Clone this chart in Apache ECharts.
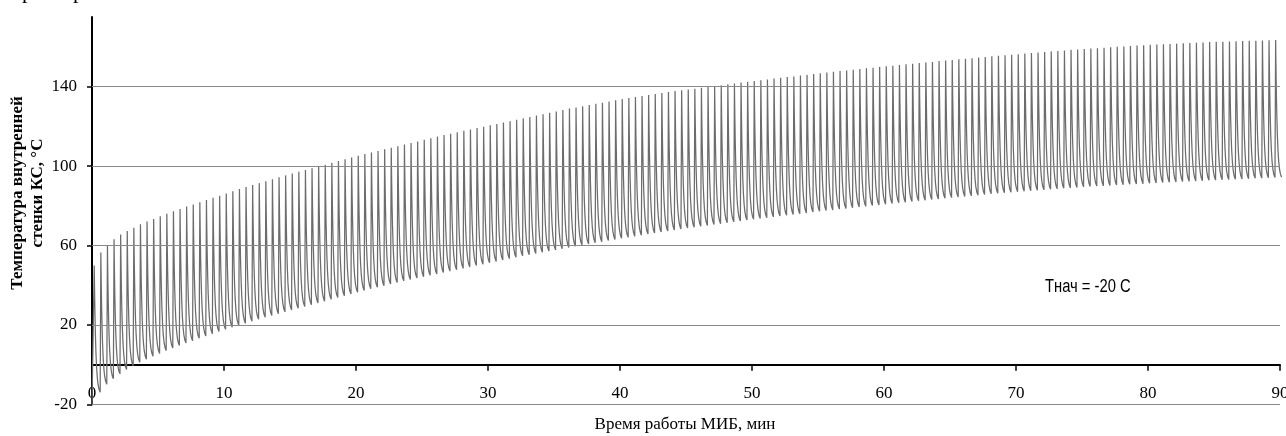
<!DOCTYPE html>
<html>
<head>
<meta charset="utf-8">
<script src="https://cdn.jsdelivr.net/npm/echarts@6/dist/echarts.min.js"></script>
<style>html,body{margin:0;padding:0;background:#fff;}#c{width:1286px;height:436px;}</style>
</head>
<body>
<div id="c"></div>
<script>
// Time axis (minutes) and temperature axis ticks
const xTicks = [0, 10, 20, 30, 40, 50, 60, 70, 80, 90];
const yTicks = [-20, 20, 60, 100, 140];
// Pulse timing: first peak and repetition period (min)
const firstPeakMin = 0.17;
const periodMin = 0.5;
// Peak temperature of each heating pulse (°C), 180 pulses
const peaks = [
  50.0, 56.5, 59.8, 63.1, 65.6, 67.3, 69.0, 70.7, 72.1, 73.4,
  74.7, 76.0, 77.2, 78.4, 79.6, 80.7, 81.8, 82.9, 84.0, 85.1,
  86.2, 87.3, 88.4, 89.4, 90.4, 91.4, 92.4, 93.4, 94.4, 95.3,
  96.2, 97.1, 98.0, 98.9, 99.8, 100.7, 101.6, 102.5, 103.4, 104.3,
  105.2, 106.0, 106.8, 107.6, 108.4, 109.2, 110.0, 110.8, 111.6, 112.4,
  113.2, 114.0, 114.8, 115.6, 116.3, 117.0, 117.7, 118.4, 119.1, 119.8,
  120.5, 121.2, 121.9, 122.6, 123.3, 124.0, 124.7, 125.4, 126.1, 126.8,
  127.5, 128.2, 128.9, 129.5, 130.1, 130.7, 131.3, 131.9, 132.5, 133.1,
  133.7, 134.2, 134.7, 135.2, 135.7, 136.2, 136.7, 137.2, 137.7, 138.1,
  138.5, 138.9, 139.4, 139.8, 140.2, 140.7, 141.1, 141.5, 142.0, 142.4,
  142.8, 143.2, 143.6, 144.0, 144.4, 144.8, 145.1, 145.5, 145.9, 146.3,
  146.7, 147.1, 147.4, 147.8, 148.1, 148.5, 148.8, 149.2, 149.5, 149.9,
  150.2, 150.5, 150.8, 151.2, 151.5, 151.8, 152.1, 152.4, 152.8, 153.1,
  153.4, 153.7, 154.0, 154.3, 154.6, 154.9, 155.2, 155.5, 155.8, 156.0,
  156.3, 156.6, 156.9, 157.1, 157.4, 157.7, 157.9, 158.2, 158.5, 158.7,
  158.9, 159.1, 159.3, 159.5, 159.8, 160.0, 160.2, 160.4, 160.6, 160.8,
  161.0, 161.1, 161.3, 161.4, 161.6, 161.8, 161.9, 162.1, 162.2, 162.4,
  162.5, 162.6, 162.7, 162.8, 162.9, 163.0, 163.1, 163.2, 163.3, 163.4
];
// Minimum temperature before each pulse (index 0 = start value, last = after final pulse)
const troughs = [
  -20.0, -13.8, -9.8, -7.1, -4.6, -2.4, -0.5, 1.2, 2.8, 4.3,
  5.7, 7.1, 8.4, 9.7, 10.9, 12.1, 13.3, 14.5, 15.6, 16.7,
  17.8, 18.9, 19.9, 20.9, 21.9, 22.9, 23.9, 24.8, 25.7, 26.6,
  27.5, 28.4, 29.3, 30.2, 31.1, 32.0, 32.9, 33.8, 34.7, 35.6,
  36.5, 37.4, 38.2, 39.0, 39.8, 40.6, 41.4, 42.2, 42.9, 43.6,
  44.3, 45.0, 45.7, 46.4, 47.1, 47.8, 48.5, 49.2, 49.9, 50.6,
  51.3, 52.0, 52.7, 53.4, 54.1, 54.8, 55.4, 56.0, 56.6, 57.2,
  57.8, 58.4, 59.0, 59.6, 60.2, 60.8, 61.4, 61.9, 62.5, 63.0,
  63.6, 64.1, 64.7, 65.2, 65.8, 66.3, 66.8, 67.3, 67.8, 68.3,
  68.8, 69.2, 69.7, 70.1, 70.6, 71.0, 71.4, 71.9, 72.3, 72.8,
  73.2, 73.6, 74.0, 74.4, 74.8, 75.2, 75.6, 76.0, 76.4, 76.8,
  77.2, 77.6, 77.9, 78.3, 78.6, 79.0, 79.4, 79.7, 80.1, 80.4,
  80.8, 81.1, 81.5, 81.8, 82.1, 82.5, 82.8, 83.1, 83.4, 83.8,
  84.1, 84.4, 84.7, 85.0, 85.3, 85.7, 86.0, 86.3, 86.6, 86.8,
  87.1, 87.3, 87.6, 87.8, 88.0, 88.3, 88.5, 88.8, 89.0, 89.2,
  89.5, 89.7, 89.9, 90.0, 90.2, 90.4, 90.6, 90.8, 90.9, 91.1,
  91.3, 91.5, 91.7, 91.8, 92.0, 92.2, 92.3, 92.5, 92.6, 92.8,
  92.9, 93.1, 93.2, 93.3, 93.5, 93.6, 93.8, 93.9, 94.1, 94.2,
  94.4
];
// Shape of the cooling part of one pulse:
// [fraction of period after the peak, fraction of the drop still remaining]
const decayShape = [
  [0.03, 0.875], [0.07, 0.733], [0.12, 0.585], [0.18, 0.446], [0.26, 0.309],
  [0.35, 0.202], [0.46, 0.117], [0.58, 0.061], [0.72, 0.024], [0.90, 0.0]
];

const lineData = [[0, troughs[0]]];
for (let k = 0; k < peaks.length; k++) {
  const tp = firstPeakMin + k * periodMin;
  const lo = troughs[k + 1];
  lineData.push([tp, peaks[k]]);
  for (const [f, g] of decayShape) {
    lineData.push([tp + f * periodMin, lo + g * (peaks[k] - lo)]);
  }
}

const serif = "'Liberation Serif', 'DejaVu Serif', serif";
const chart = echarts.init(document.getElementById('c'), null, {renderer: 'canvas'});
chart.setOption({
  animation: false,
  backgroundColor: '#ffffff',
  grid: {left: 92, right: 6, top: 17, bottom: 31.5, containLabel: false, outerBoundsMode: 'none'},
  xAxis: {
    type: 'value', min: 0, max: 90, interval: 10,
    axisLine: {show: true, onZero: true, lineStyle: {color: '#000', width: 2}},
    axisTick: {show: true, length: 6, lineStyle: {color: '#000', width: 1.5}},
    axisLabel: {margin: -19, fontSize: 17, fontFamily: serif, color: '#000',
      customValues: xTicks, hideOverlap: false},
    splitLine: {show: false}
  },
  yAxis: {
    type: 'value', min: -20, max: 175, interval: 40,
    axisLine: {show: true, onZero: false, lineStyle: {color: '#000', width: 2}},
    axisTick: {show: true, length: 5, lineStyle: {color: '#000', width: 1.5},
      customValues: yTicks},
    axisLabel: {margin: 15, fontSize: 17, fontFamily: serif, color: '#000',
      customValues: yTicks, hideOverlap: false},
    splitLine: {show: false}
  },
  series: [{
    type: 'line',
    data: lineData,
    showSymbol: false,
    symbol: 'none',
    sampling: 'none',
    clip: true,
    lineStyle: {color: '#6c6c6c', width: 1.25},
    z: 2,
    markLine: {
      silent: true,
      symbol: ['none', 'none'],
      label: {show: false},
      lineStyle: {color: '#8a8a8a', width: 1, type: 'solid'},
      emphasis: {disabled: true},
      data: yTicks.map(v => ({yAxis: v}))
    }
  }],
  graphic: [
    {type: 'text', x: 28, y: 193, rotation: Math.PI / 2,
      style: {text: 'Температура внутренней\nстенки КС, °С', font: 'bold 17px ' + serif,
        fill: '#000', align: 'center', verticalAlign: 'middle', lineHeight: 20}},
    {type: 'text', x: 685, y: 425,
      style: {text: 'Время работы МИБ, мин', font: '17px ' + serif, fill: '#000',
        align: 'center', verticalAlign: 'middle'}},
    {type: 'text', x: 1045, y: 287, scaleX: 0.82,
      style: {text: 'Тнач = -20 С', font: "18px 'Liberation Sans', Arial, sans-serif",
        fill: '#000', align: 'left', verticalAlign: 'middle'}},
    {type: 'text', x: 22, y: -8,
      style: {text: 'р', font: '22px ' + serif, fill: '#000', align: 'left', verticalAlign: 'middle'}},
    {type: 'text', x: 73, y: -8,
      style: {text: 'р', font: '22px ' + serif, fill: '#000', align: 'left', verticalAlign: 'middle'}}
  ]
});
</script>
</body>
</html>
